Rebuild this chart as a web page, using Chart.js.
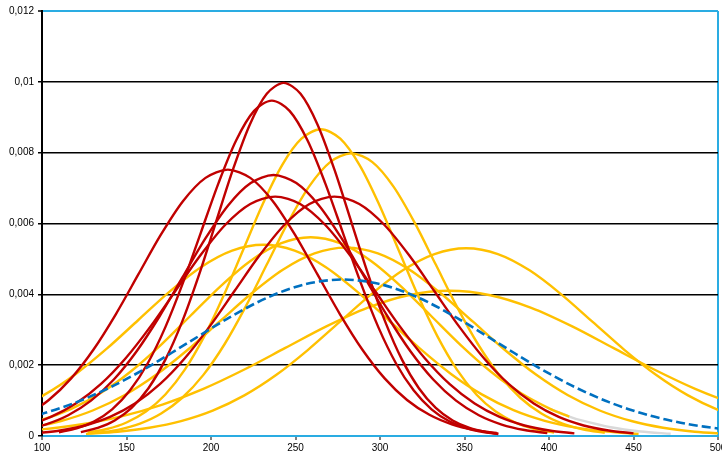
<!DOCTYPE html>
<html>
<head>
<meta charset="utf-8">
<script src="https://cdn.jsdelivr.net/npm/chart.js@4"></script>
<style>
  html, body { margin: 0; padding: 0; background: #fff; overflow: hidden; }
  #wrap { width: 722px; height: 455px; position: relative; }
</style>
</head>
<body>
<div id="wrap"><canvas id="graph"></canvas></div>
<script>
// tick labels
var xTickLabels = ['100', '150', '200', '250', '300', '350', '400', '450', '500'];
var yTickLabels = ['0', '0,002', '0,004', '0,006', '0,008', '0,01', '0,012'];

// blue dashed curve
var blueX = [8, 30.5, 53, 75.5, 98, 120.5, 143, 165.5, 188, 210.5, 233, 255.5, 278, 300.5, 323, 345.5, 368, 390.5, 413, 435.5, 458, 480.5, 503, 525.5, 548];
var blueY = [0.0000491, 0.0001007, 0.0001942, 0.0003517, 0.0005982, 0.0009559, 0.001435, 0.002024, 0.002681, 0.003336, 0.003901, 0.004284, 0.00442,
             0.004284, 0.003901, 0.003336, 0.002681, 0.002024, 0.001435, 0.0009559, 0.0005982, 0.0003517, 0.0001942, 0.0001007, 0.0000491];

// red curves
var red1X = [123, 133, 143, 153, 163, 173, 183, 193, 203, 213, 223, 233, 243, 253, 263, 273, 283, 293, 303, 313, 323, 333, 343, 353, 363, 370];
var red1Y = [0.0001108, 0.0002272, 0.0004381, 0.0007932, 0.0013493, 0.0021562, 0.0032368, 0.0045646, 0.0060471, 0.0075258, 0.0087985, 0.0096632, 0.00997,
             0.0096632, 0.0087985, 0.0075258, 0.0060471, 0.0045646, 0.0032368, 0.0021562, 0.0013493, 0.0007932, 0.0004381, 0.0002272, 0.0001108, 0.000067];
var red2X = [110, 120.5, 131, 141.5, 152, 162.5, 173, 183.5, 194, 204.5, 215, 225.5, 236, 246.5, 257, 267.5, 278, 288.5, 299, 309.5, 320, 330.5, 341, 351.5, 362, 370];
var red2Y = [0.0001052, 0.0002158, 0.0004161, 0.0007534, 0.0012817, 0.0020481, 0.0030744, 0.0043356, 0.0057438, 0.0071483, 0.0083573, 0.0091786, 0.00947,
             0.0091786, 0.0083573, 0.0071483, 0.0057438, 0.0043356, 0.0030744, 0.0020481, 0.0012817, 0.0007534, 0.0004161, 0.0002158, 0.0001052, 0.000058];
var red3X = [51, 64.25, 77.5, 90.75, 104, 117.25, 130.5, 143.75, 157, 170.25, 183.5, 196.75, 210, 223.25, 236.5, 249.75, 263, 276.25, 289.5, 302.75, 316, 329.25, 342.5, 355.75, 369];
var red3Y = [0.0000835, 0.0001714, 0.0003304, 0.0005983, 0.0010178, 0.0016264, 0.0024414, 0.0034429, 0.0045611, 0.0056764, 0.0066364, 0.0072886, 0.00752,
             0.0072886, 0.0066364, 0.0056764, 0.0045611, 0.0034429, 0.0024414, 0.0016264, 0.0010178, 0.0005983, 0.0003304, 0.0001714, 0.0000835];
var red4X = [75, 88.5, 102, 115.5, 129, 142.5, 156, 169.5, 183, 196.5, 210, 223.5, 237, 250.5, 264, 277.5, 291, 304.5, 318, 331.5, 345, 358.5, 372, 385.5, 399];
var red4Y = [0.0000819, 0.000168, 0.0003238, 0.0005864, 0.0009975, 0.0015939, 0.0023927, 0.0033742, 0.0044701, 0.0055632, 0.006504, 0.0071432, 0.00737,
             0.0071432, 0.006504, 0.0055632, 0.0044701, 0.0033742, 0.0023927, 0.0015939, 0.0009975, 0.0005864, 0.0003238, 0.000168, 0.0000819];
var red5X = [61, 75.75, 90.5, 105.25, 120, 134.75, 149.5, 164.25, 179, 193.75, 208.5, 223.25, 238, 252.75, 267.5, 282.25, 297, 311.75, 326.5, 341.25, 356, 370.75, 385.5, 400.25, 415];
var red5Y = [0.0000751, 0.0001541, 0.000297, 0.0005378, 0.0009149, 0.001462, 0.0021946, 0.0030949, 0.0041001, 0.0051027, 0.0059657, 0.006552, 0.00676,
             0.006552, 0.0059657, 0.0051027, 0.0041001, 0.0030949, 0.0021946, 0.001462, 0.0009149, 0.0005378, 0.000297, 0.0001541, 0.0000751];
var red6X = [96, 110.75, 125.5, 140.25, 155, 169.75, 184.5, 199.25, 214, 228.75, 243.5, 258.25, 273, 287.75, 302.5, 317.25, 332, 346.75, 361.5, 376.25, 391, 405.75, 420.5, 435.25, 450];
var red6Y = [0.0000751, 0.0001541, 0.000297, 0.0005378, 0.0009149, 0.001462, 0.0021946, 0.0030949, 0.0041001, 0.0051027, 0.0059657, 0.006552, 0.00676,
             0.006552, 0.0059657, 0.0051027, 0.0041001, 0.0030949, 0.0021946, 0.001462, 0.0009149, 0.0005378, 0.000297, 0.0001541, 0.0000751];

// yellow curves
var yel1X = [127, 138.5, 150, 161.5, 173, 184.5, 196, 207.5, 219, 230.5, 242, 253.5, 265, 276.5, 288, 299.5, 311, 322.5, 334, 345.5, 357, 368.5, 380, 391.5, 403];
var yel1Y = [0.0000962, 0.0001974, 0.0003805, 0.000689, 0.001172, 0.0018729, 0.0028115, 0.0039648, 0.0052525, 0.0065369, 0.0076425, 0.0083935, 0.00866,
             0.0083935, 0.0076425, 0.0065369, 0.0052525, 0.0039648, 0.0028115, 0.0018729, 0.001172, 0.000689, 0.0003805, 0.0001974, 0.0000962];
var yel2X = [133, 145.5, 158, 170.5, 183, 195.5, 208, 220.5, 233, 245.5, 258, 270.5, 283, 295.5, 308, 320.5, 333, 345.5, 358, 370.5, 383, 395.5, 408, 420.5, 433];
var yel2Y = [0.0000887, 0.0001819, 0.0003506, 0.0006349, 0.00108, 0.0017258, 0.0025907, 0.0036535, 0.0048401, 0.0060236, 0.0070424, 0.0077345, 0.00798,
             0.0077345, 0.0070424, 0.0060236, 0.0048401, 0.0036535, 0.0025907, 0.0017258, 0.00108, 0.0006349, 0.0003506, 0.0001819, 0.0000887];
var yel3X = [46, 63.75, 81.5, 99.25, 117, 134.75, 152.5, 170.25, 188, 205.75, 223.5, 241.25, 259, 276.75, 294.5, 312.25, 330, 347.75, 365.5, 383.25, 401, 412];
var yel3Y = [0.0000623, 0.0001279, 0.0002465, 0.0004463, 0.0007593, 0.0012133, 0.0018213, 0.0025684, 0.0034026, 0.0042347, 0.0049508, 0.0054374, 0.00561,
             0.0054374, 0.0049508, 0.0042347, 0.0034026, 0.0025684, 0.0018213, 0.0012133, 0.0007593, 0.00055];
var yel4X = [9, 27.5, 46, 64.5, 83, 101.5, 120, 138.5, 157, 175.5, 194, 212.5, 231, 249.5, 268, 286.5, 305, 323.5, 342, 360.5, 379, 397.5, 416, 434.5, 453];
var yel4Y = [0.00006, 0.0001231, 0.0002373, 0.0004296, 0.0007308, 0.0011679, 0.0017531, 0.0024723, 0.0032753, 0.0040761, 0.0047655, 0.0052338, 0.0054,
             0.0052338, 0.0047655, 0.0040761, 0.0032753, 0.0024723, 0.0017531, 0.0011679, 0.0007308, 0.0004296, 0.0002373, 0.0001231, 0.00006];
var yel5X = [55, 73.75, 92.5, 111.25, 130, 148.75, 167.5, 186.25, 205, 223.75, 242.5, 261.25, 280, 298.75, 317.5, 336.25, 355, 373.75, 392.5, 411.25, 430, 448.75, 467.5, 486.25, 505];
var yel5Y = [0.0000591, 0.0001212, 0.0002338, 0.0004233, 0.00072, 0.0011506, 0.0017271, 0.0024357, 0.0032267, 0.0040157, 0.0046949, 0.0051563, 0.00532,
             0.0051563, 0.0046949, 0.0040157, 0.0032267, 0.0024357, 0.0017271, 0.0011506, 0.00072, 0.0004233, 0.0002338, 0.0001212, 0.0000591];
var yel6X = [126, 144.75, 163.5, 182.25, 201, 219.75, 238.5, 257.25, 276, 294.75, 313.5, 332.25, 351, 369.75, 388.5, 407.25, 426, 444.75, 463.5, 482.25, 501, 519.75, 538.5];
var yel6Y = [0.0000589, 0.0001208, 0.0002329, 0.0004217, 0.0007173, 0.0011462, 0.0017206, 0.0024265, 0.0032146, 0.0040007, 0.0046773, 0.0051369, 0.0053,
             0.0051369, 0.0046773, 0.0040007, 0.0032146, 0.0024265, 0.0017206, 0.0011462, 0.0007173, 0.0004217, 0.0002329];
var yel7X = [50, 74.25, 98.5, 122.75, 147, 171.25, 195.5, 219.75, 244, 268.25, 292.5, 316.75, 341, 365.25, 389.5, 413.75, 438, 462.25, 486.5, 510.75, 535];
var yel7Y = [0.0000456, 0.0000934, 0.0001802, 0.0003262, 0.0005549, 0.0008867, 0.0013311, 0.0018771, 0.0024868, 0.0030948, 0.0036183, 0.0039738, 0.0041,
             0.0039738, 0.0036183, 0.0030948, 0.0024868, 0.0018771, 0.0013311, 0.0008867, 0.0005549];

// grey tail
var greyX = [401, 412, 418.75, 436.5, 454.25, 472];
var greyY = [0.0007593, 0.00055, 0.0004463, 0.0002465, 0.0001279, 0.0000623];

var RED = '#C00000';
var YELLOW = '#FFC000';
var BLUE = '#0070C0';
var FRAME = '#2AACE2';

function pts(xs, ys) {
    return xs.map(function (x, i) { return { x: x, y: ys[i] }; });
}

function line(label, xs, ys, color, extra) {
    var ds = {
        label: label,
        data: pts(xs, ys),
        borderColor: color,
        backgroundColor: 'transparent',
        borderWidth: 2.4,
        pointRadius: 0,
        fill: false
    };
    for (var k in extra || {}) ds[k] = extra[k];
    return ds;
}

Chart.defaults.font.family = '"Liberation Sans", Arial, sans-serif';
Chart.defaults.font.size = 10;
Chart.defaults.color = '#000';

var ctx = document.getElementById('graph').getContext('2d');

var chart = new Chart(ctx, {
    type: 'line',
    data: {
        datasets: [
            line('moyenne', blueX, blueY, BLUE, { borderDash: [9, 4], borderWidth: 2.6 }),
            line('r1', red1X, red1Y, RED),
            line('r2', red2X, red2Y, RED),
            line('r3', red3X, red3Y, RED),
            line('r4', red4X, red4Y, RED),
            line('r5', red5X, red5Y, RED),
            line('r6', red6X, red6Y, RED),
            line('j1', yel1X, yel1Y, YELLOW),
            line('j2', yel2X, yel2Y, YELLOW),
            line('j3', yel3X, yel3Y, YELLOW),
            line('j4', yel4X, yel4Y, YELLOW),
            line('j5', yel5X, yel5Y, YELLOW),
            line('j6', yel6X, yel6Y, YELLOW),
            line('j7', yel7X, yel7Y, YELLOW),
            line('g', greyX, greyY, '#D9D9D9')
        ]
    },
    options: {
        responsive: true,
        maintainAspectRatio: false,
        animation: false,
        layout: { padding: { left: 0, top: 11, right: 4, bottom: 0 } },
        elements: {
            line: { tension: 0.3, capBezierPoints: false }
        },
        plugins: {
            legend: { display: false },
            tooltip: { enabled: false }
        },
        scales: {
            x: {
                type: 'linear',
                position: 'bottom',
                min: 100,
                max: 500,
                border: { color: FRAME, width: 2 },
                grid: {
                    color: function (c) { return c.tick && c.tick.value === 500 ? FRAME : 'rgba(0,0,0,0)'; },
                    lineWidth: 2,
                    tickColor: '#000',
                    tickLength: 4,
                    tickWidth: 1
                },
                ticks: {
                    stepSize: 50,
                    autoSkip: false,
                    maxRotation: 0,
                    padding: 2,
                    callback: function (v, i) { return xTickLabels[i]; }
                },
                afterFit: function (s) { s.height = 19; s.paddingLeft = 0; s.paddingRight = 0; }
            },
            y: {
                min: 0,
                max: 0.012,
                border: { color: '#000', width: 2 },
                grid: {
                    color: function (c) {
                        if (!c.tick) return '#000';
                        if (c.tick.value >= 0.012) return FRAME;
                        if (c.tick.value === 0) return 'rgba(0,0,0,0)';
                        return '#000';
                    },
                    lineWidth: function (c) { return c.tick && c.tick.value >= 0.012 ? 2 : 1.5; },
                    tickColor: '#000',
                    tickLength: 4,
                    tickWidth: 1.5
                },
                ticks: {
                    stepSize: 0.002,
                    padding: 4,
                    callback: function (v, i) { return yTickLabels[i]; }
                },
                afterFit: function (s) { s.width = 42; s.paddingTop = 0; s.paddingBottom = 0; }
            }
        }
    }
});
</script>
</body>
</html>
